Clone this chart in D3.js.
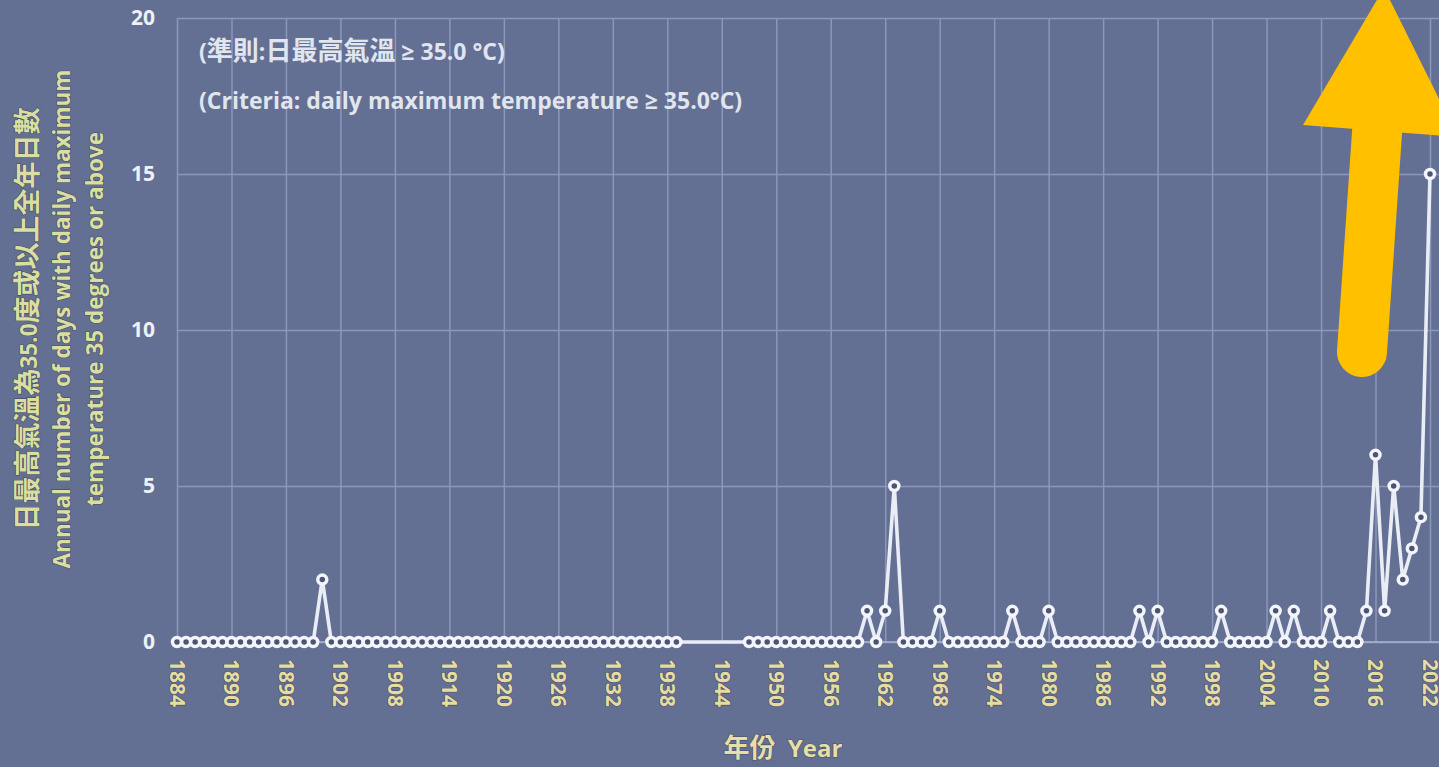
<!DOCTYPE html>
<html>
<head>
<meta charset="utf-8">
<script src="https://cdn.jsdelivr.net/npm/d3@7"></script>
<style>
  body { margin: 0; background: #636f93; overflow: hidden; }
  svg { display: block; }
  text { font-family: "Open Sans", "Noto Sans CJK TC", sans-serif; font-weight: bold; }
</style>
</head>
<body>
<svg id="chart" width="1439" height="767"></svg>
<script>
// annual number of days with max temp >= 35.0 C (no record 1940-1946)
const years = [
  1884, 1885, 1886, 1887, 1888, 1889, 1890, 1891, 1892, 1893,
  1894, 1895, 1896, 1897, 1898, 1899, 1900, 1901, 1902, 1903,
  1904, 1905, 1906, 1907, 1908, 1909, 1910, 1911, 1912, 1913,
  1914, 1915, 1916, 1917, 1918, 1919, 1920, 1921, 1922, 1923,
  1924, 1925, 1926, 1927, 1928, 1929, 1930, 1931, 1932, 1933,
  1934, 1935, 1936, 1937, 1938, 1939,
  1947, 1948, 1949, 1950, 1951, 1952, 1953, 1954, 1955, 1956,
  1957, 1958, 1959, 1960, 1961, 1962, 1963, 1964, 1965, 1966,
  1967, 1968, 1969, 1970, 1971, 1972, 1973, 1974, 1975, 1976,
  1977, 1978, 1979, 1980, 1981, 1982, 1983, 1984, 1985, 1986,
  1987, 1988, 1989, 1990, 1991, 1992, 1993, 1994, 1995, 1996,
  1997, 1998, 1999, 2000, 2001, 2002, 2003, 2004, 2005, 2006,
  2007, 2008, 2009, 2010, 2011, 2012, 2013, 2014, 2015, 2016,
  2017, 2018, 2019, 2020, 2021, 2022
];
const hotDays = [
  0, 0, 0, 0, 0, 0, 0, 0, 0, 0,
  0, 0, 0, 0, 0, 0, 2, 0, 0, 0,
  0, 0, 0, 0, 0, 0, 0, 0, 0, 0,
  0, 0, 0, 0, 0, 0, 0, 0, 0, 0,
  0, 0, 0, 0, 0, 0, 0, 0, 0, 0,
  0, 0, 0, 0, 0, 0,
  0, 0, 0, 0, 0, 0, 0, 0, 0, 0,
  0, 0, 0, 1, 0, 1, 5, 0, 0, 0,
  0, 1, 0, 0, 0, 0, 0, 0, 0, 1,
  0, 0, 0, 1, 0, 0, 0, 0, 0, 0,
  0, 0, 0, 1, 0, 1, 0, 0, 0, 0,
  0, 0, 1, 0, 0, 0, 0, 0, 1, 0,
  1, 0, 0, 0, 1, 0, 0, 0, 1, 6,
  1, 5, 2, 3, 4, 15
];
const xTicks = [1884, 1890, 1896, 1902, 1908, 1914, 1920, 1926, 1932, 1938,
  1944, 1950, 1956, 1962, 1968, 1974, 1980, 1986, 1992, 1998, 2004, 2010, 2016, 2022];
const yTicks = [0, 5, 10, 15, 20];
const yTitle = ["日最高氣溫為35.0度或以上全年日數",
  "Annual number of days with daily maximum",
  "temperature 35 degrees or above"];
const notes = ["(準則:日最高氣溫 ≥ 35.0 °C)", "(Criteria: daily maximum temperature ≥ 35.0°C)"];
const xTitle = "年份 Year";

const plot = { left: 178, right: 1439, top: 18, bottom: 642 };

const svg = d3.select("#chart");

const x = d3.scaleLinear().domain([1884, 2022]).range([177, 1430]);
const y = d3.scaleLinear().domain([0, 20]).range([plot.bottom, plot.top]);

// chinese runs get a bigger size than latin runs, like the original font
const cjk = /[\u3400-\u9fff]/;
const writeRuns = function(sel, str, latinSize, cjkSize, gap) {
  str.match(/[\u3400-\u9fff]+|[^\u3400-\u9fff]+/g).forEach((run, i) => {
    sel.append("tspan")
      .attr("font-size", cjk.test(run) ? cjkSize : latinSize)
      .attr("dx", i > 0 && gap ? gap : null)
      .text(run);
  });
};

// y grid + labels
const yAxis = svg.append("g")
  .attr("transform", `translate(${plot.left},0)`)
  .call(d3.axisLeft(y).tickValues(yTicks).tickSize(-(plot.right - plot.left)).tickPadding(23));
yAxis.select(".domain").remove();
yAxis.selectAll("line").attr("stroke", "#8c97ba").attr("stroke-width", 1.5);
yAxis.selectAll("text")
  .attr("fill", "#eef1f6")
  .attr("font-size", 21)
  .attr("font-family", "'Open Sans', sans-serif");

// x grid + rotated year labels
const xAxis = svg.append("g")
  .attr("transform", `translate(0,${plot.bottom})`)
  .call(d3.axisBottom(x).tickValues(xTicks).tickFormat(d3.format("d")).tickSize(-(plot.bottom - plot.top)));
xAxis.select(".domain").remove();
xAxis.selectAll("line").attr("stroke", "#8c97ba").attr("stroke-width", 1.5);
xAxis.selectAll("text")
  .attr("transform", "rotate(90)")
  .attr("text-anchor", "start")
  .attr("x", 17)
  .attr("y", 0)
  .attr("dy", "0.36em")
  .attr("fill", "#e4dca2")
  .attr("stroke", "#4b5066")
  .attr("stroke-width", 1.2)
  .attr("paint-order", "stroke")
  .attr("font-size", 21)
  .attr("font-family", "'Open Sans', sans-serif");

// baseline
svg.append("line")
  .attr("x1", plot.left).attr("x2", plot.right)
  .attr("y1", plot.bottom).attr("y2", plot.bottom)
  .attr("stroke", "#a9b3cf").attr("stroke-width", 1.5);

const points = years.map((yr, i) => ({ year: yr, value: hotDays[i] }));

const line = d3.line().x(d => x(d.year)).y(d => y(d.value));

svg.append("path")
  .attr("d", line(points))
  .attr("fill", "none")
  .attr("stroke", "#e9edf5")
  .attr("stroke-width", 3.6)
  .attr("stroke-linejoin", "round");

svg.append("g")
  .selectAll("circle")
  .data(points)
  .join("circle")
  .attr("cx", d => x(d.year))
  .attr("cy", d => y(d.value))
  .attr("r", 4.5)
  .attr("fill", "#4b5473")
  .attr("stroke", "#f3f5fa")
  .attr("stroke-width", 3.5);

// criteria notes
notes.forEach((note, i) => {
  const t = svg.append("text")
    .attr("x", 199)
    .attr("y", 54 + i * 49)
    .attr("dy", "0.36em")
    .attr("fill", "#e1e5ee");
  writeRuns(t, note, 23, 26);
});

// y title
yTitle.forEach((label, i) => {
  const t = svg.append("text")
    .attr("transform", `translate(${31 + i * 33},319) rotate(-90)`)
    .attr("text-anchor", "middle")
    .attr("dy", "0.36em")
    .attr("fill", "#d9dfa0")
    .attr("stroke", "#4b5066")
    .attr("stroke-width", 1.2)
    .attr("paint-order", "stroke");
  writeRuns(t, label, 22.5, 27);
});

// x title
const xt = svg.append("text")
  .attr("x", 783)
  .attr("y", 751)
  .attr("dy", "0.36em")
  .attr("text-anchor", "middle")
  .attr("fill", "#e6dfa8")
  .attr("stroke", "#4b5066")
  .attr("stroke-width", 1.2)
  .attr("paint-order", "stroke");
writeRuns(xt, xTitle, 24, 26, 6);

// yellow arrow annotation
const arrow = svg.append("g").attr("fill", "#ffc000");
arrow.append("line")
  .attr("x1", 1362).attr("y1", 352)
  .attr("x2", 1378).attr("y2", 118)
  .attr("stroke", "#ffc000")
  .attr("stroke-width", 50)
  .attr("stroke-linecap", "round");
arrow.append("path")
  .attr("d", "M1303,125 L1384,-12 L1458,137 Z");
</script>
</body>
</html>
